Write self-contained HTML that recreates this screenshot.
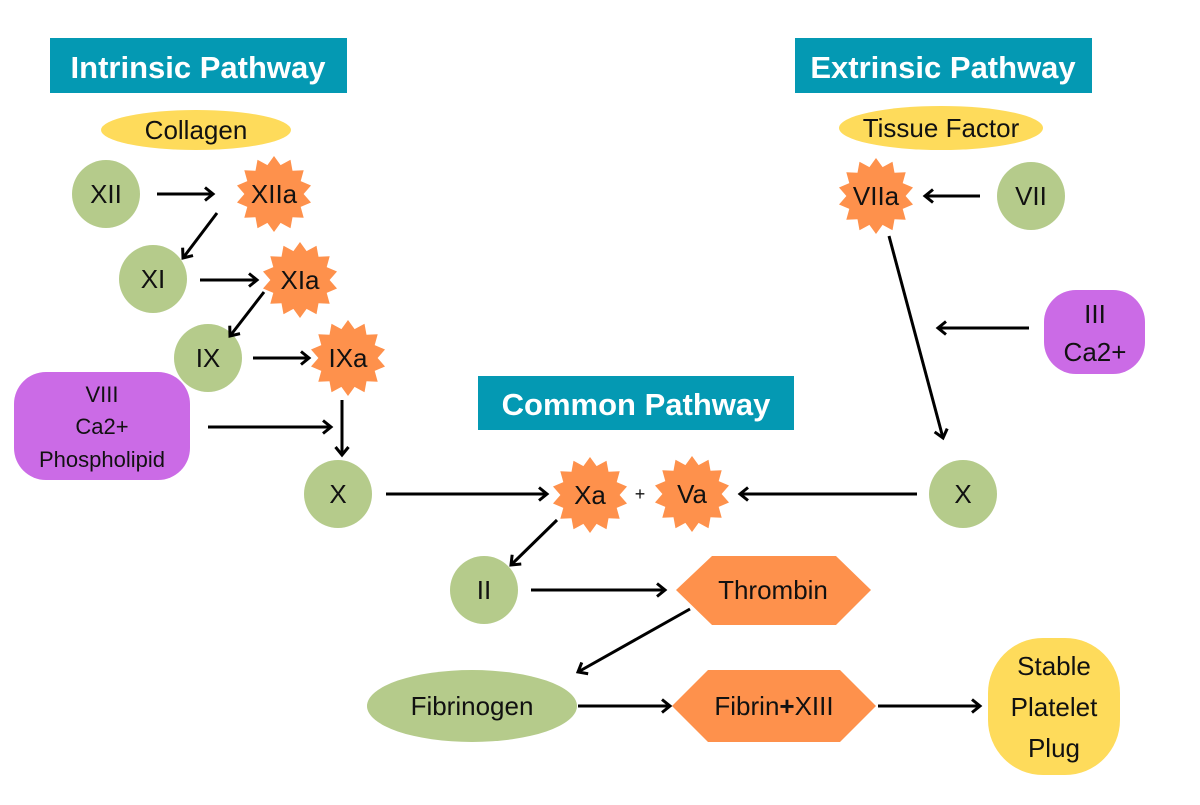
<!DOCTYPE html>
<html><head><meta charset="utf-8"><style>
html,body{margin:0;padding:0;background:#fff;}
svg text{font-family:"Liberation Sans",sans-serif;}
</style></head><body>
<svg id="s" width="1200" height="800" viewBox="0 0 1200 800" xmlns="http://www.w3.org/2000/svg">
<defs><marker id="a" markerWidth="14" markerHeight="16" refX="10" refY="8" orient="auto" markerUnits="userSpaceOnUse"><path d="M2,1.5 L10,8 L2,14.5" fill="none" stroke="#000" stroke-width="3"/></marker></defs>
<rect x="50" y="38" width="297" height="55" fill="#0499b3"/>
<text x="198" y="78" font-size="31" font-weight="bold" fill="#fff" text-anchor="middle">Intrinsic Pathway</text>
<rect x="795" y="38" width="297" height="55" fill="#0499b3"/>
<text x="943" y="78" font-size="31" font-weight="bold" fill="#fff" text-anchor="middle">Extrinsic Pathway</text>
<rect x="478" y="376" width="316" height="54" fill="#0499b3"/>
<text x="636" y="415" font-size="31" font-weight="bold" fill="#fff" text-anchor="middle">Common Pathway</text>
<ellipse cx="196" cy="130" rx="95" ry="20" fill="#fedb5b"/>
<ellipse cx="941" cy="128" rx="102" ry="22" fill="#fedb5b"/>
<g fill="#b5cb8b">
<circle cx="106" cy="194" r="34"/><circle cx="153" cy="279" r="34"/><circle cx="208" cy="358" r="34"/>
<circle cx="338" cy="494" r="34"/><circle cx="484" cy="590" r="34"/><circle cx="1031" cy="196" r="34"/><circle cx="963" cy="494" r="34"/>
<ellipse cx="472" cy="706" rx="105" ry="36"/>
</g>
<g id="stars" fill="#fe914c"></g>
<rect x="14" y="372" width="176" height="108" rx="32" fill="#cb6be6"/>
<rect x="1044" y="290" width="101" height="84" rx="32" fill="#cb6be6"/>
<polygon points="676,590 712,556 836,556 871,590 836,625 712,625" fill="#fe914c"/>
<polygon points="672,706 708,670 840,670 876,706 840,742 708,742" fill="#fe914c"/>
<rect x="988" y="638" width="132" height="137" rx="55" fill="#fedb5b"/>
<g stroke="#000" stroke-width="3" marker-end="url(#a)">
<line x1="157" y1="194" x2="213" y2="194"/>
<line x1="217" y1="213" x2="183" y2="258"/>
<line x1="200" y1="280" x2="257" y2="280"/>
<line x1="264" y1="292" x2="230" y2="336"/>
<line x1="253" y1="358" x2="309" y2="358"/>
<line x1="342" y1="400" x2="342" y2="455"/>
<line x1="208" y1="427" x2="331" y2="427"/>
<line x1="386" y1="494" x2="547" y2="494"/>
<line x1="557" y1="520" x2="511" y2="565"/>
<line x1="531" y1="590" x2="665" y2="590"/>
<line x1="690" y1="609" x2="578" y2="672"/>
<line x1="578" y1="706" x2="670" y2="706"/>
<line x1="878" y1="706" x2="980" y2="706"/>
<line x1="917" y1="494" x2="740" y2="494"/>
<line x1="1029" y1="328" x2="938" y2="328"/>
<line x1="980" y1="196" x2="925" y2="196"/>
<line x1="889" y1="236" x2="943" y2="438"/>
</g>
<g font-size="26" fill="#111" text-anchor="middle">
<text x="196" y="139">Collagen</text>
<text x="941" y="137">Tissue Factor</text>
<text x="106" y="203">XII</text><text x="153" y="288">XI</text><text x="208" y="367">IX</text>
<text x="338" y="503">X</text><text x="484" y="599">II</text><text x="1031" y="205">VII</text><text x="963" y="503">X</text>
<text x="274" y="203">XIIa</text><text x="300" y="289">XIa</text><text x="348" y="367">IXa</text>
<text x="876" y="205">VIIa</text><text x="590" y="504">Xa</text><text x="692" y="503">Va</text>
<text x="640" y="500" font-size="18">+</text>
<text x="102" y="402" font-size="22">VIII</text><text x="102" y="434" font-size="22">Ca2+</text><text x="102" y="467" font-size="22">Phospholipid</text>
<text x="1095" y="323">III</text><text x="1095" y="361">Ca2+</text>
<text x="773" y="599">Thrombin</text>
<text x="472" y="715">Fibrinogen</text>
<text x="774" y="715">Fibrin<tspan font-weight="bold">+</tspan>XIII</text>
<text x="1054" y="675">Stable</text><text x="1054" y="716">Platelet</text><text x="1054" y="757">Plug</text>
</g>
</svg>
<script>
var g=document.getElementById('stars');
[[274,194,38],[300,280,38],[348,358,38],[876,196,38],[590,495,38],[692,494,38]].forEach(function(s){
var n=14,p=[];for(var i=0;i<2*n;i++){var r=i%2?s[2]*0.78:s[2];var a=Math.PI*i/n-Math.PI/2;p.push((s[0]+r*Math.cos(a)).toFixed(1)+','+(s[1]+r*Math.sin(a)).toFixed(1));}
var e=document.createElementNS('http://www.w3.org/2000/svg','polygon');e.setAttribute('points',p.join(' '));g.appendChild(e);});
</script>
</body></html>
